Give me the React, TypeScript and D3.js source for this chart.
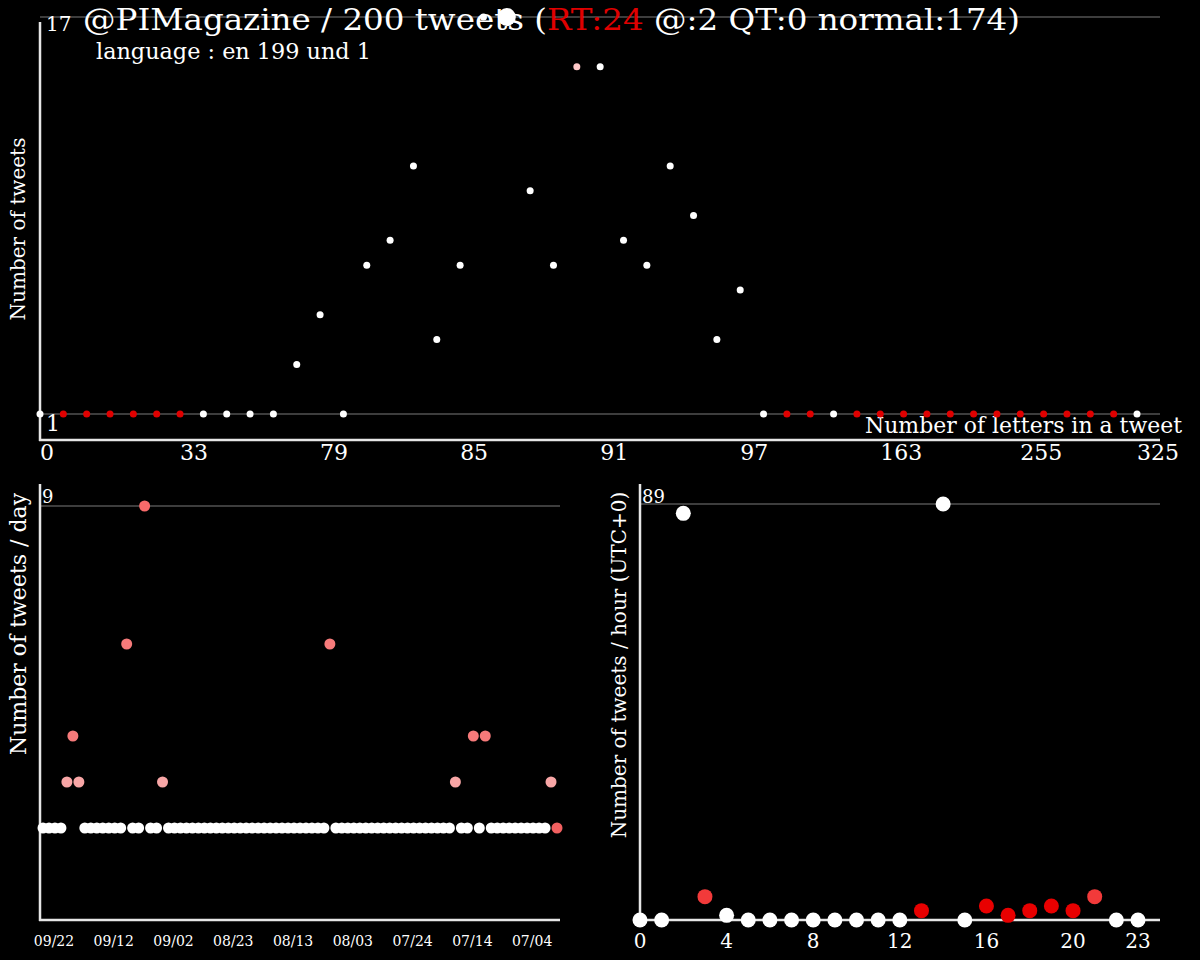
import React from "react";
import * as d3 from "d3";

// ---------- Top chart: number of letters per tweet ----------
const letterCounts = [
  0, 4, 9, 15, 20, 26, 33, 40, 52, 61, 70, 76, 79, 80, 81, 82, 83, 84, 85, 86, 87, 88,
  89, 90, 91, 92, 93, 94, 95, 96, 97, 98, 104, 117, 131, 148, 163, 178, 193, 210, 226, 241,
  255, 270, 284, 297, 311, 325,
];
const letterTweets = [
  1, 1, 1, 1, 1, 1, 1, 1, 1, 1, 1, 3, 5, 1, 7, 8, 11, 4, 7, 17, 17, 10,
  7, 15, 15, 8, 7, 11, 9, 4, 6, 1, 1, 1, 1, 1, 1, 1, 1, 1, 1, 1,
  1, 1, 1, 1, 1, 1,
];
// n = normal, r = retweet, m = mixed
const letterKind = [
  "n", "r", "r", "r", "r", "r", "r", "n", "n", "n", "n", "n", "n", "n", "n", "n", "n", "n", "n", "n", "n", "n",
  "n", "m", "n", "n", "n", "n", "n", "n", "n", "n", "r", "r", "n", "r", "r", "r", "r", "r", "r", "r",
  "r", "r", "r", "r", "r", "n",
];
const letterTicks = [0, 33, 79, 85, 91, 97, 163, 255, 325];
const highlightLetterIndex = 20;

// ---------- Bottom left: tweets per day (newest first, 09/22 back to 06/28) ----------
const dayValues = [
  2, 2, 2, 2, 3, 4, 3, 2, 2, 2, 2, 2, 2, 2, 6, 2, 2, 9, 2, 2, 3, 2,
  2, 2, 2, 2, 2, 2, 2, 2, 2, 2, 2, 2, 2, 2, 2, 2, 2, 2, 2, 2, 2, 2,
  2, 2, 2, 2, 6, 2, 2, 2, 2, 2, 2, 2, 2, 2, 2, 2, 2, 2, 2, 2, 2, 2,
  2, 2, 2, 3, 2, 2, 4, 2, 4, 2, 2, 2, 2, 2, 2, 2, 2, 2, 2, 3, 2,
];
// 0 = no RT, 1 = low RT share, 2 = mid, 3 = high
const dayRtLevel = [
  0, 0, 0, 0, 1, 2, 1, 0, 0, 0, 0, 0, 0, 0, 2, 0, 0, 3, 0, 0, 1, 0,
  0, 0, 0, 0, 0, 0, 0, 0, 0, 0, 0, 0, 0, 0, 0, 0, 0, 0, 0, 0, 0, 0,
  0, 0, 0, 0, 2, 0, 0, 0, 0, 0, 0, 0, 0, 0, 0, 0, 0, 0, 0, 0, 0, 0,
  0, 0, 0, 1, 0, 0, 2, 0, 2, 0, 0, 0, 0, 0, 0, 0, 0, 0, 0, 1, 3,
];
const newestDay = new Date(2019, 8, 22);
const oldestDay = new Date(2019, 5, 28);
const dayTicks = ["09/22", "09/12", "09/02", "08/23", "08/13", "08/03", "07/24", "07/14", "07/04"];

// ---------- Bottom right: tweets per hour ----------
const hours = d3.range(0, 24);
const hourValues = [0, 0, 87, 5, 1, 0, 0, 0, 0, 0, 0, 0, 0, 2, 89, 0, 3, 1, 2, 3, 2, 5, 0, 0];
const hourRtLevel = [0, 0, 0, 1, 0, 0, 0, 0, 0, 0, 0, 0, 0, 2, 0, 0, 2, 2, 2, 2, 2, 1, 0, 0];
const hourTicks = [0, 4, 8, 12, 16, 20, 23];

const FONT = "DejaVu Serif";
const AXIS = "#e6e6e6";
const GRID = "#7a7a7a";

const kindColor: Record<string, string> = { n: "#ffffff", r: "#e00000", m: "#ffc8c8" };
const dayColor = ["#ffffff", "#f8a6a6", "#f67a7a", "#f86a6a", "#f26060"];
const hourColor = ["#ffffff", "#f23a3a", "#e80000"];

export default function App() {
  // top
  const xTop = d3.scalePoint<string>().domain(letterCounts.map(String)).range([40, 1137]);
  const yTop = d3.scaleLinear().domain([1, 17]).range([414, 17]);
  // bottom left
  const xDay = d3.scaleTime().domain([newestDay, oldestDay]).range([43, 557]);
  const yDay = d3.scaleLinear().domain([0, 9]).range([920, 506]);
  const parseTick = d3.timeParse("%Y/%m/%d");
  // bottom right
  const xHour = d3.scaleLinear().domain([0, 23]).range([640, 1138]);
  const yHour = d3.scaleLinear().domain([0, 89]).range([920, 504]);

  return (
    <div style={{ position: "fixed", left: 0, top: 0, width: 1200, height: 960, background: "#000" }}>
      <svg width={1200} height={960} style={{ display: "block", background: "#000" }} fontFamily={FONT}>
        {/* ===== TOP CHART ===== */}
        {[17, 1].map((v) => (
          <line key={v} x1={40} x2={1160} y1={yTop(v)} y2={yTop(v)} stroke={GRID} strokeWidth={1} />
        ))}
        <line x1={40} x2={40} y1={22} y2={441} stroke={AXIS} strokeWidth={2.5} />
        <line x1={39} x2={1160} y1={440} y2={440} stroke={AXIS} strokeWidth={2.5} />
        <text x={46} y={31} fill="#fff" fontSize={20}>17</text>
        <text x={46} y={431} fill="#fff" fontSize={22}>1</text>
        {letterTicks.map((t) => (
          <text key={t} x={xTop(String(t))} y={460} fill="#fff" fontSize={22}>{t}</text>
        ))}
        <text x={1182} y={433} fill="#fff" fontSize={22} textAnchor="end" textLength={317} lengthAdjust="spacingAndGlyphs">Number of letters in a tweet</text>
        <text transform={`translate(25,229) rotate(-90)`} fill="#fff" fontSize={20} textAnchor="middle">Number of tweets</text>
        <text x={83} y={30} fontSize={30} fill="#fff" textLength={937} lengthAdjust="spacingAndGlyphs">
          <tspan>@PIMagazine / 200 tweets (</tspan>
          <tspan fill="#e00000">RT:24</tspan>
          <tspan> @:2 QT:0 normal:174)</tspan>
        </text>
        <text x={96} y={59} fontSize={22} fill="#fff" textLength={275} lengthAdjust="spacingAndGlyphs">language : en 199 und 1</text>
        {letterCounts.map((c, i) => (
          <circle
            key={c}
            cx={xTop(String(c))}
            cy={yTop(letterTweets[i])}
            r={i === highlightLetterIndex ? 9 : 3.5}
            fill={kindColor[letterKind[i]]}
          />
        ))}

        {/* ===== BOTTOM LEFT ===== */}
        <line x1={40} x2={560} y1={yDay(9)} y2={yDay(9)} stroke={GRID} strokeWidth={1} />
        <line x1={40} x2={40} y1={484} y2={921} stroke={AXIS} strokeWidth={2.5} />
        <line x1={39} x2={560} y1={920} y2={920} stroke={AXIS} strokeWidth={2.5} />
        <text x={42} y={503} fill="#fff" fontSize={18}>9</text>
        <text transform={`translate(26,624) rotate(-90)`} fill="#fff" fontSize={22} textAnchor="middle">Number of tweets / day</text>
        {dayTicks.map((t) => {
          const d = parseTick("2019/" + t)!;
          return (
            <text key={t} x={xDay(d) + 11} y={946} fill="#fff" fontSize={14} textAnchor="middle">{t}</text>
          );
        })}
        {dayValues.map((v, i) => {
          const d = d3.timeDay.offset(newestDay, -i);
          const lvl = dayRtLevel[i] === 3 && v >= 9 ? 3 : dayRtLevel[i] === 3 ? 4 : dayRtLevel[i];
          return <circle key={i} cx={xDay(d)} cy={yDay(v)} r={5.5} fill={dayColor[lvl]} />;
        })}

        {/* ===== BOTTOM RIGHT ===== */}
        <line x1={640} x2={1160} y1={yHour(89)} y2={yHour(89)} stroke={GRID} strokeWidth={1} />
        <line x1={640} x2={640} y1={484} y2={921} stroke={AXIS} strokeWidth={2.5} />
        <line x1={639} x2={1160} y1={920} y2={920} stroke={AXIS} strokeWidth={2.5} />
        <text x={642} y={503} fill="#fff" fontSize={18}>89</text>
        <text transform={`translate(626,665) rotate(-90)`} fill="#fff" fontSize={20} textAnchor="middle">Number of tweets / hour (UTC+0)</text>
        {hourTicks.map((h) => (
          <text key={h} x={xHour(h)} y={948} fill="#fff" fontSize={20} textAnchor="middle">{h}</text>
        ))}
        {hours.map((h) => (
          <circle key={h} cx={xHour(h)} cy={yHour(hourValues[h])} r={7.5} fill={hourColor[hourRtLevel[h]]} />
        ))}
      </svg>
    </div>
  );
}
